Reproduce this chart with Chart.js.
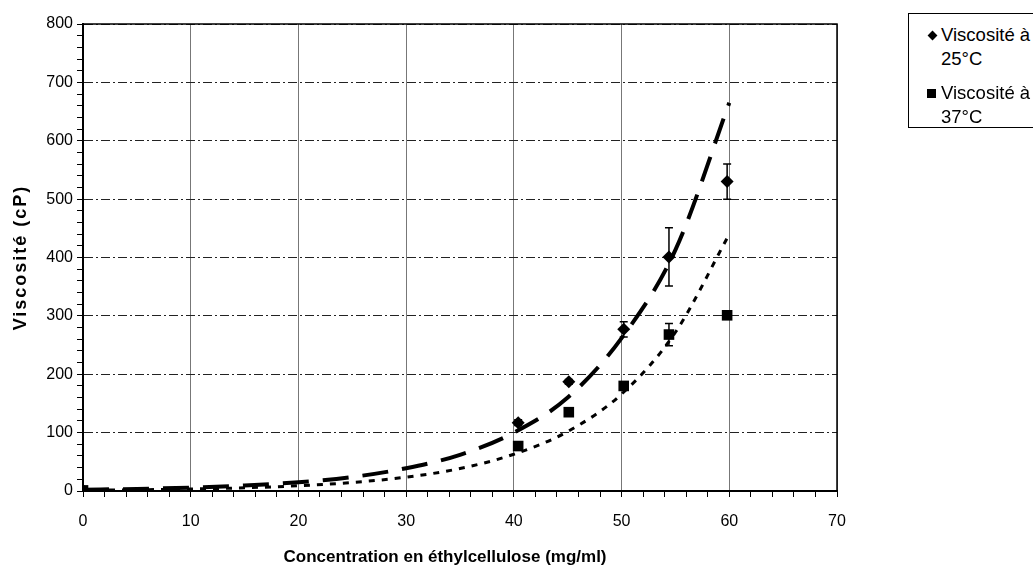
<!DOCTYPE html>
<html>
<head>
<meta charset="utf-8">
<script src="https://cdn.jsdelivr.net/npm/chart.js@4.4.1/dist/chart.umd.min.js"></script>
<style>
  html, body { margin: 0; padding: 0; background: #fff; overflow: hidden; }
  #wrap { position: relative; width: 1033px; height: 568px; }
  #legende {
    position: absolute; left: 908px; top: 13px; width: 140px; height: 113px;
    border: 1px solid #000; background: #fff;
    font-family: "Liberation Sans", Arial, sans-serif; font-size: 18.5px; color: #000;
  }
  .item { position: absolute; left: 0; display: flex; align-items: flex-start; }
  .item .txt { width: 100px; line-height: 24px; }
  .mk { width: 32px; height: 24px; position: relative; }
  .mk i { position: absolute; background: #000; }
</style>
</head>
<body>
<div id="wrap">
  <canvas id="chartViscosite" width="1033" height="568"></canvas>
  <div id="legende"></div>
</div>
<script>
// Données
const conc25 = [0, 40.4, 45.1, 50.2, 54.4, 59.8];
const visc25 = [1, 117, 187, 277, 401, 530];
const err25 = [0, 5, 4, 13, 50, 30];

const conc37 = [0, 40.4, 45.1, 50.2, 54.4, 59.8];
const visc37 = [1, 77, 135, 180, 268, 301];
const err37 = [0, 4, 3, 4, 19, 4];

// Courbes de tendance
const concTendance = [0, 5, 10, 15, 20, 25, 30, 35, 40, 45, 50, 55, 60];
const tendance25 = [2.3, 3.6, 5.8, 9.4, 15, 24, 39, 62, 100, 160, 262, 413, 665];
const tendance37 = [1.3, 2.1, 3.4, 5.5, 9, 14.6, 23.7, 38.5, 63, 102, 166, 272, 440];

const seriesNoms = ["Viscosité à 25°C", "Viscosité à 37°C"];
const xTickLabels = [0, 10, 20, 30, 40, 50, 60, 70];
const yTickLabels = [0, 100, 200, 300, 400, 500, 600, 700, 800];

const police = "'Liberation Sans', Arial, sans-serif";

function toPoints(xs, ys) {
    return xs.map((x, i) => ({ x: x, y: ys[i] }));
}

// Barres d'erreur dessinées avec les échelles du graphique
const errorBars = {
    id: "errorBars",
    afterDatasetsDraw(chart) {
        const ctx = chart.ctx;
        const xs = chart.scales.x;
        const ys = chart.scales.y;
        chart.data.datasets.forEach((ds) => {
            if (!ds.erreurs) return;
            ctx.save();
            ctx.strokeStyle = "#000";
            ctx.lineWidth = 1.5;
            ds.data.forEach((p, i) => {
                const e = ds.erreurs[i];
                if (!e) return;
                const px = xs.getPixelForValue(p.x);
                const top = ys.getPixelForValue(p.y + e);
                const bot = ys.getPixelForValue(p.y - e);
                ctx.beginPath();
                ctx.moveTo(px, top); ctx.lineTo(px, bot);
                ctx.moveTo(px - 4, top); ctx.lineTo(px + 4, top);
                ctx.moveTo(px - 4, bot); ctx.lineTo(px + 4, bot);
                ctx.stroke();
            });
            ctx.restore();
        });
    }
};

// Cadre autour de la zone de tracé
const cadre = {
    id: "cadre",
    afterDraw(chart) {
        const a = chart.chartArea;
        const ctx = chart.ctx;
        ctx.save();
        ctx.strokeStyle = "#000";
        ctx.lineWidth = 1.5;
        ctx.strokeRect(a.left, a.top, a.right - a.left, a.bottom - a.top);
        ctx.restore();
    }
};

// Titres d'axes : espacement des lettres (axe Y) et petit décalage (axe X)
const titresAxes = {
    id: "titresAxes",
    afterLayout(chart) {
        const sy = chart.scales.y;
        const sx = chart.scales.x;
        if (!sy._patched) {
            const origY = sy.drawTitle;
            sy.drawTitle = function () {
                this.ctx.save();
                this.ctx.letterSpacing = "2px";
                origY.call(this);
                this.ctx.restore();
            };
            sy._patched = true;
        }
        if (!sx._patched) {
            const origX = sx.drawTitle;
            sx.drawTitle = function () {
                this.ctx.save();
                this.ctx.translate(-15, 0);
                origX.call(this);
                this.ctx.restore();
            };
            sx._patched = true;
        }
    }
};

const estMajeur = (v, pas) => Math.abs(v % pas) < 1e-6;

const ctx = document.getElementById("chartViscosite").getContext("2d");
new Chart(ctx, {
    type: "scatter",
    data: {
        datasets: [
            {
                label: seriesNoms[0],
                data: toPoints(conc25, visc25),
                erreurs: err25,
                pointStyle: "rectRot",
                pointRadius: 6.5,
                backgroundColor: "#000",
                borderColor: "#000",
                borderWidth: 0,
                order: 0
            },
            {
                label: seriesNoms[1],
                data: toPoints(conc37, visc37),
                erreurs: err37,
                pointStyle: "rect",
                pointRadius: 7.5,
                backgroundColor: "#000",
                borderColor: "#000",
                borderWidth: 0,
                order: 0
            },
            {
                label: "Tendance 25°C",
                data: toPoints(concTendance, tendance25),
                showLine: true,
                pointRadius: 0,
                borderColor: "#000",
                borderWidth: 4,
                borderDash: [26, 14],
                cubicInterpolationMode: "monotone",
                order: 1
            },
            {
                label: "Tendance 37°C",
                data: toPoints(concTendance, tendance37),
                showLine: true,
                pointRadius: 0,
                borderColor: "#000",
                borderWidth: 3,
                borderDash: [6, 7],
                cubicInterpolationMode: "monotone",
                order: 1
            }
        ]
    },
    options: {
        responsive: false,
        animation: false,
        layout: { padding: { top: 24, right: 196, left: 0, bottom: 0 } },
        plugins: {
            legend: { display: false },
            tooltip: { enabled: false }
        },
        scales: {
            x: {
                type: "linear",
                min: 0,
                max: 70,
                afterFit(scale) { scale.height = 77; },
                ticks: {
                    stepSize: 2,
                    autoSkip: false,
                    maxTicksLimit: 100,
                    maxRotation: 0,
                    padding: 15,
                    color: "#000",
                    font: { family: police, size: 16 },
                    callback: (v) => xTickLabels.includes(v) ? String(v) : ""
                },
                grid: {
                    color: (c) => estMajeur(c.tick.value, 10) ? "#777" : "rgba(0,0,0,0)",
                    lineWidth: 1,
                    tickColor: "#000",
                    tickLength: 6,
                    tickWidth: 1
                },
                border: { color: "#000", width: 2 },
                title: {
                    display: true,
                    text: "Concentration en éthylcellulose (mg/ml)",
                    color: "#000",
                    font: { family: police, size: 17, weight: "bold" },
                    padding: { top: 0, bottom: 0 }
                }
            },
            y: {
                type: "linear",
                min: 0,
                max: 800,
                afterFit(scale) { scale.width = 83; },
                ticks: {
                    stepSize: 20,
                    autoSkip: false,
                    maxTicksLimit: 100,
                    padding: 4,
                    color: "#000",
                    font: { family: police, size: 16 },
                    callback: (v) => yTickLabels.includes(v) ? String(v) : ""
                },
                grid: {
                    color: (c) => estMajeur(c.tick.value, 100) ? "#222" : "rgba(0,0,0,0)",
                    lineWidth: 1,
                    tickColor: "#000",
                    tickLength: 6,
                    tickWidth: 1
                },
                border: { color: "#000", width: 2, dash: [9, 3, 2, 3] },
                title: {
                    display: true,
                    text: "Viscosité (cP)",
                    color: "#000",
                    font: { family: police, size: 18, weight: "bold" },
                    padding: { top: 10, bottom: 0 }
                }
            }
        }
    },
    plugins: [errorBars, cadre, titresAxes]
});

// Légende (HTML) à droite, construite à partir des noms des séries
const legende = document.getElementById("legende");
const marqueurs = [
    '<i style="left:20px;top:9px;width:7px;height:7px;transform:rotate(45deg);"></i>',
    '<i style="left:18px;top:8px;width:9px;height:9px;"></i>'
];
const hauts = [9, 67];
seriesNoms.forEach((nom, i) => {
    const item = document.createElement("div");
    item.className = "item";
    item.style.top = hauts[i] + "px";
    item.innerHTML = `<span class="mk">${marqueurs[i]}</span><span class="txt">${nom}</span>`;
    legende.appendChild(item);
});
</script>
</body>
</html>
